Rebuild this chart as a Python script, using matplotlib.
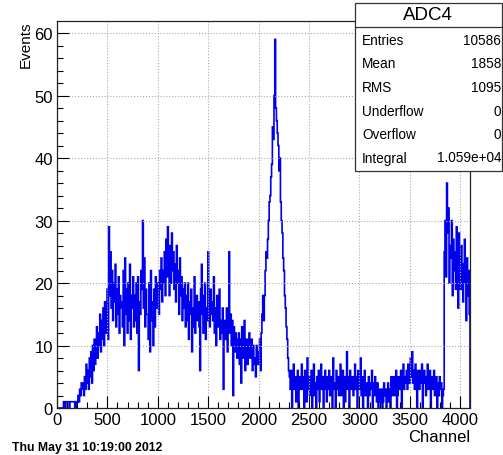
import numpy as np
import matplotlib
matplotlib.use("Agg")
import matplotlib.pyplot as plt
from matplotlib.patches import Rectangle
from matplotlib.ticker import MultipleLocator

plt.rcParams['font.family'] = ['Liberation Sans', 'DejaVu Sans']

# ADC4 spectrum, 8 channels per bin, one row = 128 channels
bin_width = 8
counts = [
    0, 0, 0, 0, 0, 0, 0, 0, 1, 1, 0, 1, 1, 1, 1, 0,
    1, 1, 1, 1, 1, 1, 0, 1, 0, 1, 2, 1, 3, 2, 4, 3,
    4, 2, 5, 3, 7, 4, 6, 3, 8, 5, 9, 4, 10, 6, 11, 7,
    9, 13, 8, 12, 10, 15, 9, 14, 11, 16, 10, 17, 12, 15, 19, 11,
    29, 18, 25, 16, 22, 14, 20, 17, 23, 13, 19, 15, 21, 12, 18, 16,
    17, 13, 22, 10, 24, 15, 19, 12, 20, 14, 23, 11, 18, 16, 21, 13,
    18, 14, 20, 12, 21, 6, 17, 15, 22, 19, 30, 16, 24, 13, 19, 15,
    15, 11, 20, 9, 22, 14, 17, 10, 19, 13, 21, 16, 18, 20, 15, 22,
    19, 24, 17, 22, 20, 25, 18, 27, 21, 29, 23, 18, 26, 20, 28, 22,
    25, 19, 23, 17, 26, 20, 22, 15, 24, 18, 21, 14, 19, 16, 20, 13,
    18, 14, 20, 11, 17, 15, 19, 9, 16, 13, 21, 12, 15, 18, 14, 17,
    13, 6, 19, 23, 15, 12, 18, 20, 11, 16, 14, 25, 17, 13, 19, 15,
    17, 14, 21, 12, 16, 10, 18, 13, 15, 19, 11, 14, 12, 16, 3, 13,
    14, 11, 16, 9, 13, 25, 12, 15, 10, 14, 2, 13, 9, 12, 11, 8,
    10, 12, 7, 11, 4, 13, 9, 8, 14, 6, 10, 11, 7, 9, 12, 8,
    9, 11, 6, 10, 7, 8, 5, 10, 8, 7, 9, 11, 6, 12, 15, 18,
    14, 18, 22, 25, 24, 27, 30, 33, 34, 37, 39, 45, 43, 50, 59, 48,
    46, 44, 42, 38, 40, 33, 30, 28, 24, 22, 18, 16, 13, 11, 8, 6,
    5, 3, 6, 0, 4, 7, 3, 5, 1, 4, 6, 0, 5, 3, 4, 7,
    3, 5, 0, 6, 4, 1, 8, 3, 5, 2, 4, 6, 0, 5, 7, 2,
    4, 0, 5, 3, 6, 1, 4, 7, 3, 5, 0, 4, 6, 3, 1, 5,
    3, 6, 2, 4, 5, 0, 8, 3, 4, 0, 6, 3, 5, 2, 4, 7,
    2, 4, 6, 0, 5, 1, 4, 9, 3, 5, 0, 6, 4, 3, 5, 2,
    4, 7, 3, 5, 0, 6, 4, 3, 8, 2, 5, 0, 4, 6, 2, 4,
    3, 0, 5, 2, 4, 3, 6, 0, 4, 2, 5, 3, 1, 4, 0, 3,
    2, 1, 3, 0, 1, 4, 2, 3, 0, 2, 4, 1, 3, 0, 5, 2,
    3, 5, 2, 4, 6, 0, 2, 5, 4, 3, 6, 0, 4, 7, 3, 5,
    4, 6, 3, 7, 5, 4, 8, 5, 9, 4, 6, 3, 7, 5, 0, 6,
    5, 3, 6, 4, 7, 0, 5, 6, 4, 2, 5, 7, 3, 4, 6, 0,
    4, 5, 3, 6, 2, 4, 5, 0, 4, 2, 5, 3, 4, 0, 2, 3,
    25, 30, 21, 36, 28, 32, 20, 26, 24, 30, 18, 27, 22, 25, 19, 29,
    24, 16, 28, 21, 19, 26, 22, 17, 23, 27, 20, 14, 24, 18, 22, 15,
]

stat_names = ['Entries', 'Mean', 'RMS', 'Underflow', 'Overflow', 'Integral']
stat_values = ['10586', '1858', '1095', '0', '0', '1.059e+04']

W, H = 503, 456
fig = plt.figure(figsize=(W / 100, H / 100), dpi=100)
ax = fig.add_axes([57 / W, 1 - 409 / H, (470 - 57) / W, (409 - 22) / H])

edges = np.arange(len(counts) + 1) * bin_width
ax.stairs(counts, edges, color='#0000ee', linewidth=1.2)

ax.set_xlim(0, 4096)
ax.set_ylim(0, 1.05 * max(counts))
ax.xaxis.set_major_locator(MultipleLocator(500))
ax.xaxis.set_minor_locator(MultipleLocator(100))
ax.yaxis.set_major_locator(MultipleLocator(10))
ax.yaxis.set_minor_locator(MultipleLocator(2))
ax.tick_params(which='both', direction='in', top=False, right=False,
               labelsize=12, pad=3, width=0.8)
ax.tick_params(which='major', length=8.5)
ax.tick_params(which='minor', length=4.3)
ax.grid(True, which='major', color='#aaaaaa', linestyle=':', linewidth=0.8)
for s in ax.spines.values():
    s.set_linewidth(0.9)
    s.set_color('#222222')

ax.set_xlabel('Channel', fontsize=12, loc='right', labelpad=1)
ax.set_ylabel('Events', fontsize=11, loc='top', labelpad=1)

# stats box
def fx(x):
    return x / W

def fy(y):
    return 1 - y / H

fig.add_artist(Rectangle((fx(355), fy(172)), fx(502) - fx(355), fy(4) - fy(172),
                         transform=fig.transFigure, facecolor='white',
                         edgecolor='#333333', linewidth=0.9))
fig.add_artist(plt.Line2D([fx(355), fx(502)], [fy(28), fy(28)],
                          transform=fig.transFigure, color='#333333', linewidth=0.9))
fig.text(fx(428), fy(15), 'ADC4', fontsize=13.5, ha='center', va='center')
for i, (name, val) in enumerate(zip(stat_names, stat_values)):
    y = fy(41 + i * 23.5)
    fig.text(fx(362), y, name, fontsize=9.8, ha='left', va='center')
    fig.text(fx(501), y, val, fontsize=9.8, ha='right', va='center')

fig.text(fx(12), fy(448), 'Thu May 31 10:19:00 2012', fontsize=8.8,
         fontweight='bold', ha='left', va='center')

fig.savefig('out.png', dpi=100)
